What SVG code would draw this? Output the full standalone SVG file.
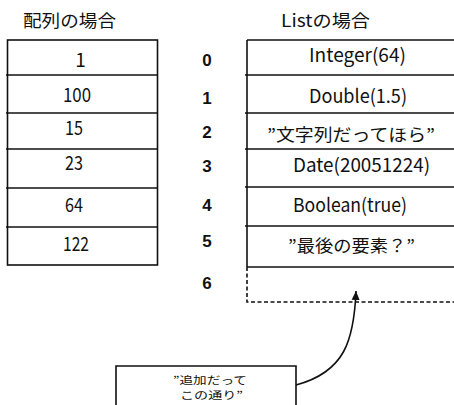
<svg xmlns="http://www.w3.org/2000/svg" width="454" height="405" viewBox="0 0 454 405">
<style>
.bg{fill:#fff}
.ln{stroke:#111;stroke-width:1.6;fill:none}
.dash{stroke:#111;stroke-width:1.6;fill:none;stroke-dasharray:4 2.5}
.t{font-family:"Noto Sans CJK JP","Liberation Sans",sans-serif;font-size:17px;fill:#111}
.l{font-family:"Noto Sans CJK JP","Liberation Sans",sans-serif;font-size:19px;fill:#111}
.n{font-family:"Liberation Sans","Noto Sans CJK JP",sans-serif;font-size:17px;font-weight:bold;fill:#111}
.s{font-family:"Noto Sans CJK JP","Liberation Sans",sans-serif;font-size:10.5px;fill:#111}
</style>
<defs>
<marker id="ah" markerWidth="10" markerHeight="10" refX="9" refY="5" orient="auto" markerUnits="userSpaceOnUse">
<path d="M0,1 L9,5 L0,9 Z" fill="#111"/>
</marker>
</defs>
<rect class="bg" x="0" y="0" width="454" height="405"/>

<g id="title-array"><text class="t" x="23" y="27" textLength="93" lengthAdjust="spacingAndGlyphs">配列の場合</text></g>
<g id="title-list"><text class="t" x="281" y="27" textLength="89" lengthAdjust="spacingAndGlyphs">Listの場合</text></g>

<g id="array-table">
<rect class="ln" x="7.5" y="40" width="150" height="225"/>
<line class="ln" x1="6" y1="75" x2="157.5" y2="75"/>
<line class="ln" x1="6" y1="113" x2="157.5" y2="113"/>
<line class="ln" x1="6" y1="149" x2="157.5" y2="149"/>
<line class="ln" x1="6" y1="188" x2="157.5" y2="188"/>
<line class="ln" x1="6" y1="227" x2="157.5" y2="227"/>
<text class="l" x="80.5" y="67" text-anchor="middle">1</text>
<text class="l" x="63" y="102" textLength="28" lengthAdjust="spacingAndGlyphs">100</text>
<text class="l" x="65" y="135" textLength="18" lengthAdjust="spacingAndGlyphs">15</text>
<text class="l" x="65" y="170" textLength="18" lengthAdjust="spacingAndGlyphs">23</text>
<text class="l" x="65" y="212" textLength="18" lengthAdjust="spacingAndGlyphs">64</text>
<text class="l" x="63" y="251" textLength="26" lengthAdjust="spacingAndGlyphs">122</text>
</g>

<g id="indices">
<text class="n" x="207" y="66" text-anchor="middle">0</text>
<text class="n" x="207" y="104" text-anchor="middle">1</text>
<text class="n" x="207" y="138" text-anchor="middle">2</text>
<text class="n" x="207" y="172" text-anchor="middle">3</text>
<text class="n" x="207" y="211" text-anchor="middle">4</text>
<text class="n" x="207" y="247" text-anchor="middle">5</text>
<text class="n" x="207" y="289" text-anchor="middle">6</text>
</g>

<g id="list-table">
<line class="ln" x1="247" y1="40" x2="454" y2="40"/>
<line class="ln" x1="247" y1="40" x2="247" y2="267"/>
<line class="ln" x1="245" y1="75" x2="454" y2="75"/>
<line class="ln" x1="245" y1="113" x2="454" y2="113"/>
<line class="ln" x1="245" y1="149" x2="454" y2="149"/>
<line class="ln" x1="245" y1="187" x2="454" y2="187"/>
<line class="ln" x1="245" y1="226" x2="454" y2="226"/>
<line class="ln" x1="247" y1="267" x2="454" y2="267"/>
<text class="l" x="309" y="62" textLength="97" lengthAdjust="spacingAndGlyphs">Integer(64)</text>
<text class="l" x="309" y="103" textLength="98" lengthAdjust="spacingAndGlyphs">Double(1.5)</text>
<text class="t" x="267" y="141" textLength="168" lengthAdjust="spacingAndGlyphs">”文字列だってほら”</text>
<text class="l" x="293" y="172" textLength="137" lengthAdjust="spacingAndGlyphs">Date(20051224)</text>
<text class="l" x="293" y="212" textLength="114" lengthAdjust="spacingAndGlyphs">Boolean(true)</text>
<text class="t" x="288" y="252" textLength="127" lengthAdjust="spacingAndGlyphs">”最後の要素？”</text>
</g>

<g id="new-slot">
<path class="dash" d="M247,267 L247,302 L454,302"/>
</g>

<g id="note">
<path class="ln" d="M116,405 L116,366 L296,366 L296,405"/>
<text class="s" x="173" y="384" textLength="74" lengthAdjust="spacingAndGlyphs">”追加だって</text>
<text class="s" x="180" y="399" textLength="63" lengthAdjust="spacingAndGlyphs">この通り”</text>
</g>

<g id="connectors">
<path class="ln" d="M296,385 C345,372 354,340 356,291" marker-end="url(#ah)"/>
</g>
</svg>
